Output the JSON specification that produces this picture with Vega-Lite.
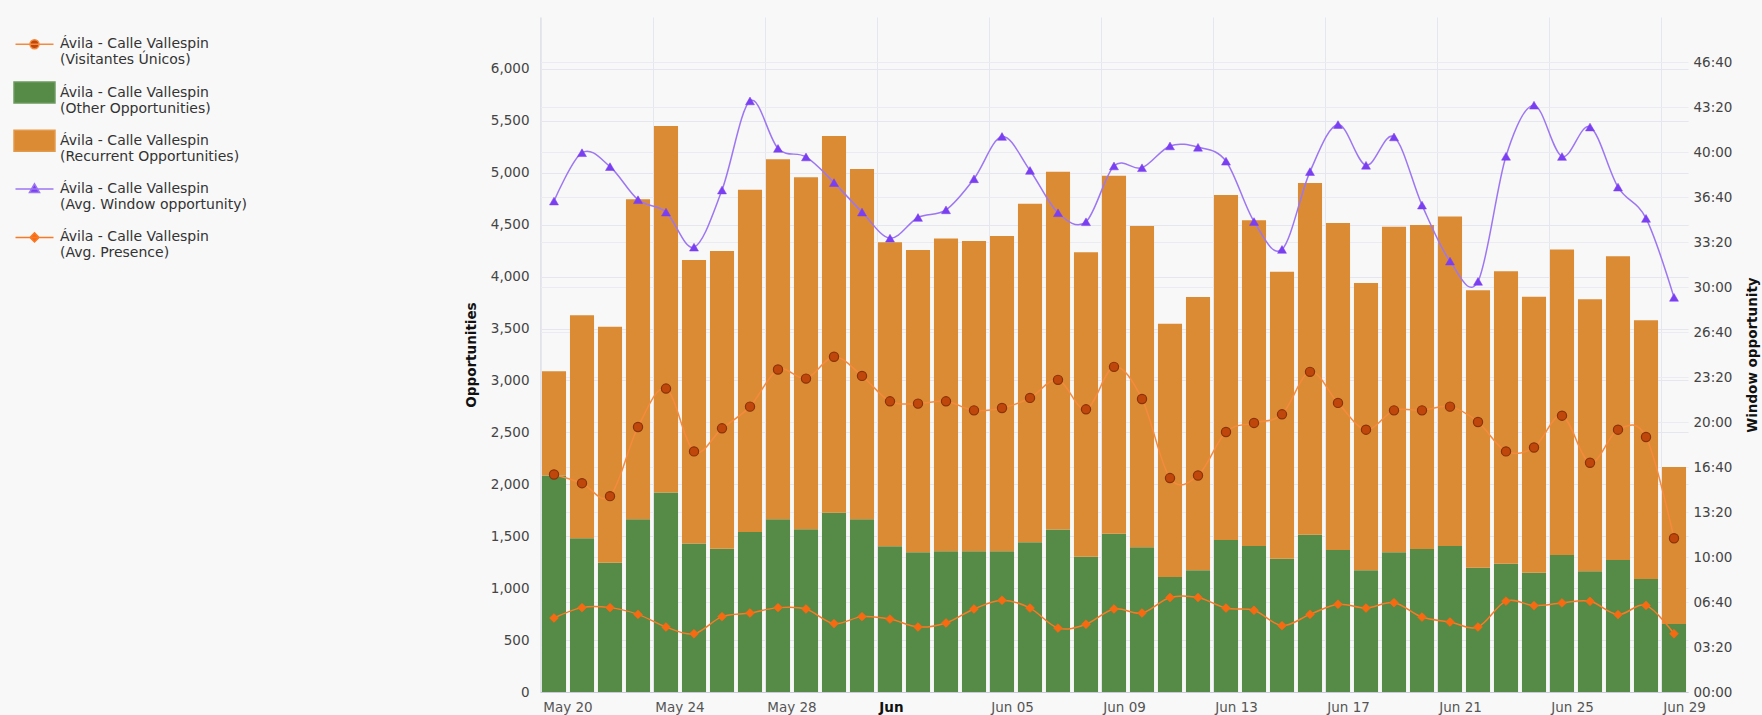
{
  "$schema": "https://vega.github.io/schema/vega-lite/v6.json",
  "width": 1148,
  "height": 675,
  "autosize": "none",
  "padding": {"left": 540, "top": 17, "right": 74, "bottom": 23},
  "background": "#f8f8f8",
  "config": {
    "font": "DejaVu Sans",
    "view": {"stroke": null},
    "axis": {"labelFont": "DejaVu Sans", "titleFont": "DejaVu Sans"}
  },
  "data": {"values": [
    {"date": "2024-05-20", "Other Opportunities": 2085, "Recurrent Opportunities": 1004, "visitors": 2095, "window": 2182, "presence": 329},
    {"date": "2024-05-21", "Other Opportunities": 1481, "Recurrent Opportunities": 2148, "visitors": 2011, "window": 2397, "presence": 375},
    {"date": "2024-05-22", "Other Opportunities": 1245, "Recurrent Opportunities": 2272, "visitors": 1886, "window": 2335, "presence": 375},
    {"date": "2024-05-23", "Other Opportunities": 1664, "Recurrent Opportunities": 3082, "visitors": 2552, "window": 2188, "presence": 345},
    {"date": "2024-05-24", "Other Opportunities": 1921, "Recurrent Opportunities": 3530, "visitors": 2922, "window": 2133, "presence": 289},
    {"date": "2024-05-25", "Other Opportunities": 1429, "Recurrent Opportunities": 2731, "visitors": 2317, "window": 1977, "presence": 259},
    {"date": "2024-05-26", "Other Opportunities": 1380, "Recurrent Opportunities": 2867, "visitors": 2539, "window": 2231, "presence": 335},
    {"date": "2024-05-27", "Other Opportunities": 1541, "Recurrent Opportunities": 3295, "visitors": 2748, "window": 2627, "presence": 351},
    {"date": "2024-05-28", "Other Opportunities": 1664, "Recurrent Opportunities": 3465, "visitors": 3105, "window": 2416, "presence": 375},
    {"date": "2024-05-29", "Other Opportunities": 1567, "Recurrent Opportunities": 3391, "visitors": 3018, "window": 2378, "presence": 369},
    {"date": "2024-05-30", "Other Opportunities": 1725, "Recurrent Opportunities": 3629, "visitors": 3228, "window": 2264, "presence": 304},
    {"date": "2024-05-31", "Other Opportunities": 1664, "Recurrent Opportunities": 3372, "visitors": 3044, "window": 2133, "presence": 335},
    {"date": "2024-06-01", "Other Opportunities": 1403, "Recurrent Opportunities": 2928, "visitors": 2799, "window": 2017, "presence": 324},
    {"date": "2024-06-02", "Other Opportunities": 1345, "Recurrent Opportunities": 2912, "visitors": 2777, "window": 2109, "presence": 289},
    {"date": "2024-06-03", "Other Opportunities": 1355, "Recurrent Opportunities": 3012, "visitors": 2799, "window": 2143, "presence": 307},
    {"date": "2024-06-04", "Other Opportunities": 1355, "Recurrent Opportunities": 2989, "visitors": 2712, "window": 2281, "presence": 369},
    {"date": "2024-06-05", "Other Opportunities": 1355, "Recurrent Opportunities": 3037, "visitors": 2735, "window": 2469, "presence": 408},
    {"date": "2024-06-06", "Other Opportunities": 1442, "Recurrent Opportunities": 3259, "visitors": 2832, "window": 2318, "presence": 373},
    {"date": "2024-06-07", "Other Opportunities": 1564, "Recurrent Opportunities": 3446, "visitors": 3006, "window": 2130, "presence": 284},
    {"date": "2024-06-08", "Other Opportunities": 1303, "Recurrent Opportunities": 2931, "visitors": 2722, "window": 2090, "presence": 301},
    {"date": "2024-06-09", "Other Opportunities": 1525, "Recurrent Opportunities": 3446, "visitors": 3131, "window": 2338, "presence": 369},
    {"date": "2024-06-10", "Other Opportunities": 1394, "Recurrent Opportunities": 3094, "visitors": 2822, "window": 2330, "presence": 351},
    {"date": "2024-06-11", "Other Opportunities": 1107, "Recurrent Opportunities": 2439, "visitors": 2060, "window": 2427, "presence": 420},
    {"date": "2024-06-12", "Other Opportunities": 1172, "Recurrent Opportunities": 2631, "visitors": 2085, "window": 2421, "presence": 420},
    {"date": "2024-06-13", "Other Opportunities": 1464, "Recurrent Opportunities": 3321, "visitors": 2504, "window": 2359, "presence": 373},
    {"date": "2024-06-14", "Other Opportunities": 1406, "Recurrent Opportunities": 3137, "visitors": 2591, "window": 2091, "presence": 363},
    {"date": "2024-06-15", "Other Opportunities": 1284, "Recurrent Opportunities": 2764, "visitors": 2674, "window": 1967, "presence": 295},
    {"date": "2024-06-16", "Other Opportunities": 1515, "Recurrent Opportunities": 3386, "visitors": 3083, "window": 2313, "presence": 345},
    {"date": "2024-06-17", "Other Opportunities": 1368, "Recurrent Opportunities": 3149, "visitors": 2784, "window": 2522, "presence": 390},
    {"date": "2024-06-18", "Other Opportunities": 1172, "Recurrent Opportunities": 2766, "visitors": 2526, "window": 2341, "presence": 373},
    {"date": "2024-06-19", "Other Opportunities": 1345, "Recurrent Opportunities": 3134, "visitors": 2712, "window": 2467, "presence": 397},
    {"date": "2024-06-20", "Other Opportunities": 1377, "Recurrent Opportunities": 3121, "visitors": 2712, "window": 2164, "presence": 333},
    {"date": "2024-06-21", "Other Opportunities": 1406, "Recurrent Opportunities": 3173, "visitors": 2748, "window": 1915, "presence": 311},
    {"date": "2024-06-22", "Other Opportunities": 1197, "Recurrent Opportunities": 2671, "visitors": 2600, "window": 1825, "presence": 289},
    {"date": "2024-06-23", "Other Opportunities": 1236, "Recurrent Opportunities": 2815, "visitors": 2317, "window": 2381, "presence": 404},
    {"date": "2024-06-24", "Other Opportunities": 1149, "Recurrent Opportunities": 2658, "visitors": 2355, "window": 2608, "presence": 384},
    {"date": "2024-06-25", "Other Opportunities": 1320, "Recurrent Opportunities": 2941, "visitors": 2661, "window": 2380, "presence": 396},
    {"date": "2024-06-26", "Other Opportunities": 1162, "Recurrent Opportunities": 2619, "visitors": 2208, "window": 2511, "presence": 403},
    {"date": "2024-06-27", "Other Opportunities": 1271, "Recurrent Opportunities": 2925, "visitors": 2526, "window": 2244, "presence": 344},
    {"date": "2024-06-28", "Other Opportunities": 1088, "Recurrent Opportunities": 2493, "visitors": 2456, "window": 2105, "presence": 385},
    {"date": "2024-06-29", "Other Opportunities": 656, "Recurrent Opportunities": 1510, "visitors": 1481, "window": 1754, "presence": 259}
  ]},
  "encoding": {
    "x": {
      "field": "date",
      "type": "ordinal",
      "title": null,
      "scale": {"paddingInner": 0.14, "paddingOuter": 0.07},
      "axis": {
        "values": ["2024-05-20", "2024-05-24", "2024-05-28", "2024-06-01", "2024-06-05", "2024-06-09", "2024-06-13", "2024-06-17", "2024-06-21", "2024-06-25", "2024-06-29"],
        "labelExpr": "utcFormat(toDate(datum.value), '%d') == '01' ? utcFormat(toDate(datum.value), '%b') : utcFormat(toDate(datum.value), '%b %d')",
        "labelAlign": "left",
        "labelAngle": 0,
        "labelOffset": -10.7,
        "bandPosition": 0,
        "ticks": false,
        "grid": true,
        "gridColor": "#e6e6ee",
        "gridWidth": 1,
        "domainColor": "#c9c9dc",
        "labelPadding": 8,
        "labelFontSize": 13.5,
        "labelColor": {"condition": {"test": "datum.value == '2024-06-01'", "value": "#111111"}, "value": "#555555"},
        "labelFontWeight": {"condition": {"test": "datum.value == '2024-06-01'", "value": "bold"}, "value": "normal"},
        "labelOverlap": false
      }
    }
  },
  "layer": [
    {
      "layer": [
        {
          "transform": [{"fold": ["Other Opportunities", "Recurrent Opportunities"], "as": ["key", "value"]}],
          "mark": {"type": "bar", "opacity": 1},
          "encoding": {
            "y": {
              "field": "value", "type": "quantitative", "stack": "zero",
              "scale": {"domain": [0, 6500], "nice": false},
              "axis": {"title": "Opportunities", "values": [0, 500, 1000, 1500, 2000, 2500, 3000, 3500, 4000, 4500, 5000, 5500, 6000], "format": ",.0f", "titleFontWeight": "bold", "titleFontSize": 13.5, "titleColor": "#111111", "titlePadding": 12, "labelFontSize": 13.5, "labelColor": "#444444", "labelPadding": 11, "ticks": false, "grid": true, "gridColor": "#e6e6ee", "domain": true, "domainColor": "#e2e2ea"}
            },
            "order": {"field": "key", "sort": "ascending"},
            "color": {
              "field": "key", "type": "nominal",
              "scale": {"domain": ["Other Opportunities", "Recurrent Opportunities"], "range": ["#558A47", "#DB8B34"]},
              "legend": null
            }
          }
        },
        {
          "transform": [
            {"filter": "datum.date == '2024-05-20'"},
            {"fold": ["visitors", "Other Opportunities", "Recurrent Opportunities", "window", "presence"], "as": ["series", "value"]}
          ],
          "mark": {"type": "point", "filled": true, "opacity": 0, "strokeWidth": 1.5, "size": 441},
          "encoding": {
            "y": {"field": "value", "type": "quantitative", "stack": null, "scale": {"domain": [0, 6500], "nice": false},
              "axis": {"title": "Opportunities", "values": [0, 500, 1000, 1500, 2000, 2500, 3000, 3500, 4000, 4500, 5000, 5500, 6000], "format": ",.0f", "titleFontWeight": "bold", "titleFontSize": 13.5, "titleColor": "#111111", "titlePadding": 12, "labelFontSize": 13.5, "labelColor": "#444444", "labelPadding": 11, "ticks": false, "grid": true, "gridColor": "#e6e6ee", "domain": true, "domainColor": "#e2e2ea"}},
            "shape": {
              "field": "series", "type": "nominal",
              "scale": {
                "domain": ["visitors", "Other Opportunities", "Recurrent Opportunities", "window", "presence"],
                "range": [
                  "M0,-1L0,-1M0,1L0,1M-1.81,0H1.81M-0.43,0A0.43,0.43,0,1,1,0.43,0A0.43,0.43,0,1,1,-0.43,0Z",
                  "M-1.95,-1H1.95V1H-1.95Z",
                  "M-1.95,-1H1.95V1H-1.95Z",
                  "M0,-1L0,-1M0,1L0,1M-1.81,0H1.81M0,-0.5L0.48,0.33L-0.48,0.33Z",
                  "M0,-1L0,-1M0,1L0,1M-1.81,0H1.81M0,-0.43L0.43,0L0,0.43L-0.43,0Z"
                ]
              },
              "legend": {
                "title": null,
                "orient": "none",
                "legendX": -517,
                "legendY": 15.7,
                "padding": 0,
                "symbolSize": 441,
                "symbolStrokeWidth": 1.5,
                "symbolOpacity": 1,
                "labelFont": "DejaVu Sans",
                "labelFontSize": 14,
                "labelColor": "#333333",
                "labelOffset": 14,
                "rowPadding": 11.3,
                "labelLimit": 400,
                "labelExpr": "['Ávila - Calle Vallespin', '(' + (datum.label == 'visitors' ? 'Visitantes Únicos' : datum.label == 'window' ? 'Avg. Window opportunity' : datum.label == 'presence' ? 'Avg. Presence' : datum.label) + ')']",
                "encode": {"labels": {"lineHeight": {"value": 16.5}}}
              }
            },
            "fill": {
              "field": "series", "type": "nominal",
              "scale": {
                "domain": ["visitors", "Other Opportunities", "Recurrent Opportunities", "window", "presence"],
                "range": ["#C0470B", "#558A47", "#DB8B34", "#7B3FF2", "#F86A12"]
              }
            },
            "stroke": {
              "field": "series", "type": "nominal",
              "scale": {
                "domain": ["visitors", "Other Opportunities", "Recurrent Opportunities", "window", "presence"],
                "range": ["#F58A3E", "#6B9A5E", "#E39A4A", "#9D76F2", "#F97A26"]
              }
            }
          }
        },
        {
          "mark": {"type": "line", "interpolate": "cardinal", "strokeWidth": 1.5, "stroke": "#F58A3E"},
          "encoding": {
            "y": {"field": "visitors", "type": "quantitative", "scale": {"domain": [0, 6500], "nice": false},
              "axis": {"title": "Opportunities", "values": [0, 500, 1000, 1500, 2000, 2500, 3000, 3500, 4000, 4500, 5000, 5500, 6000], "format": ",.0f", "titleFontWeight": "bold", "titleFontSize": 13.5, "titleColor": "#111111", "titlePadding": 12, "labelFontSize": 13.5, "labelColor": "#444444", "labelPadding": 11, "ticks": false, "grid": true, "gridColor": "#e6e6ee", "domain": true, "domainColor": "#e2e2ea"}}
          }
        },
        {
          "mark": {"type": "point", "shape": "circle", "filled": true, "fill": "#C0470B", "stroke": "#8A3208", "strokeWidth": 1.2, "size": 85, "opacity": 1},
          "encoding": {
            "y": {"field": "visitors", "type": "quantitative", "scale": {"domain": [0, 6500], "nice": false},
              "axis": {"title": "Opportunities", "values": [0, 500, 1000, 1500, 2000, 2500, 3000, 3500, 4000, 4500, 5000, 5500, 6000], "format": ",.0f", "titleFontWeight": "bold", "titleFontSize": 13.5, "titleColor": "#111111", "titlePadding": 12, "labelFontSize": 13.5, "labelColor": "#444444", "labelPadding": 11, "ticks": false, "grid": true, "gridColor": "#e6e6ee", "domain": true, "domainColor": "#e2e2ea"}}
          }
        }
      ]
    },
    {
      "layer": [
        {
          "mark": {"type": "line", "interpolate": "cardinal", "strokeWidth": 1.5, "stroke": "#9D76F2"},
          "encoding": {
            "y": {"field": "window", "type": "quantitative", "scale": {"domain": [0, 3000], "nice": false},
              "axis": {"orient": "right", "title": "Window opportunity", "titleAngle": 270, "values": [0, 200, 400, 600, 800, 1000, 1200, 1400, 1600, 1800, 2000, 2200, 2400, 2600, 2800], "labelExpr": "utcFormat(datum.value * 1000, '%M:%S')", "titleFontWeight": "bold", "titleFontSize": 13.5, "titleColor": "#111111", "titlePadding": 28, "labelFontSize": 13.5, "labelColor": "#444444", "labelPadding": 5, "ticks": false, "grid": true, "gridColor": "#ebebf1", "domain": false}}
          }
        },
        {
          "mark": {"type": "point", "shape": "triangle-up", "filled": true, "fill": "#7B3FF2", "stroke": "#7B3FF2", "strokeWidth": 0.5, "size": 80, "opacity": 1},
          "encoding": {
            "y": {"field": "window", "type": "quantitative", "scale": {"domain": [0, 3000], "nice": false},
              "axis": {"orient": "right", "title": "Window opportunity", "titleAngle": 270, "values": [0, 200, 400, 600, 800, 1000, 1200, 1400, 1600, 1800, 2000, 2200, 2400, 2600, 2800], "labelExpr": "utcFormat(datum.value * 1000, '%M:%S')", "titleFontWeight": "bold", "titleFontSize": 13.5, "titleColor": "#111111", "titlePadding": 28, "labelFontSize": 13.5, "labelColor": "#444444", "labelPadding": 5, "ticks": false, "grid": true, "gridColor": "#ebebf1", "domain": false}}
          }
        },
        {
          "mark": {"type": "line", "interpolate": "cardinal", "strokeWidth": 1.5, "stroke": "#F97A26"},
          "encoding": {
            "y": {"field": "presence", "type": "quantitative", "scale": {"domain": [0, 3000], "nice": false},
              "axis": {"orient": "right", "title": "Window opportunity", "titleAngle": 270, "values": [0, 200, 400, 600, 800, 1000, 1200, 1400, 1600, 1800, 2000, 2200, 2400, 2600, 2800], "labelExpr": "utcFormat(datum.value * 1000, '%M:%S')", "titleFontWeight": "bold", "titleFontSize": 13.5, "titleColor": "#111111", "titlePadding": 28, "labelFontSize": 13.5, "labelColor": "#444444", "labelPadding": 5, "ticks": false, "grid": true, "gridColor": "#ebebf1", "domain": false}}
          }
        },
        {
          "mark": {"type": "point", "shape": "diamond", "filled": true, "fill": "#F86A12", "stroke": "#F86A12", "strokeWidth": 0.5, "size": 80, "opacity": 1},
          "encoding": {
            "y": {"field": "presence", "type": "quantitative", "scale": {"domain": [0, 3000], "nice": false},
              "axis": {"orient": "right", "title": "Window opportunity", "titleAngle": 270, "values": [0, 200, 400, 600, 800, 1000, 1200, 1400, 1600, 1800, 2000, 2200, 2400, 2600, 2800], "labelExpr": "utcFormat(datum.value * 1000, '%M:%S')", "titleFontWeight": "bold", "titleFontSize": 13.5, "titleColor": "#111111", "titlePadding": 28, "labelFontSize": 13.5, "labelColor": "#444444", "labelPadding": 5, "ticks": false, "grid": true, "gridColor": "#ebebf1", "domain": false}}
          }
        }
      ]
    }
  ],
  "resolve": {"scale": {"y": "independent"}}
}
